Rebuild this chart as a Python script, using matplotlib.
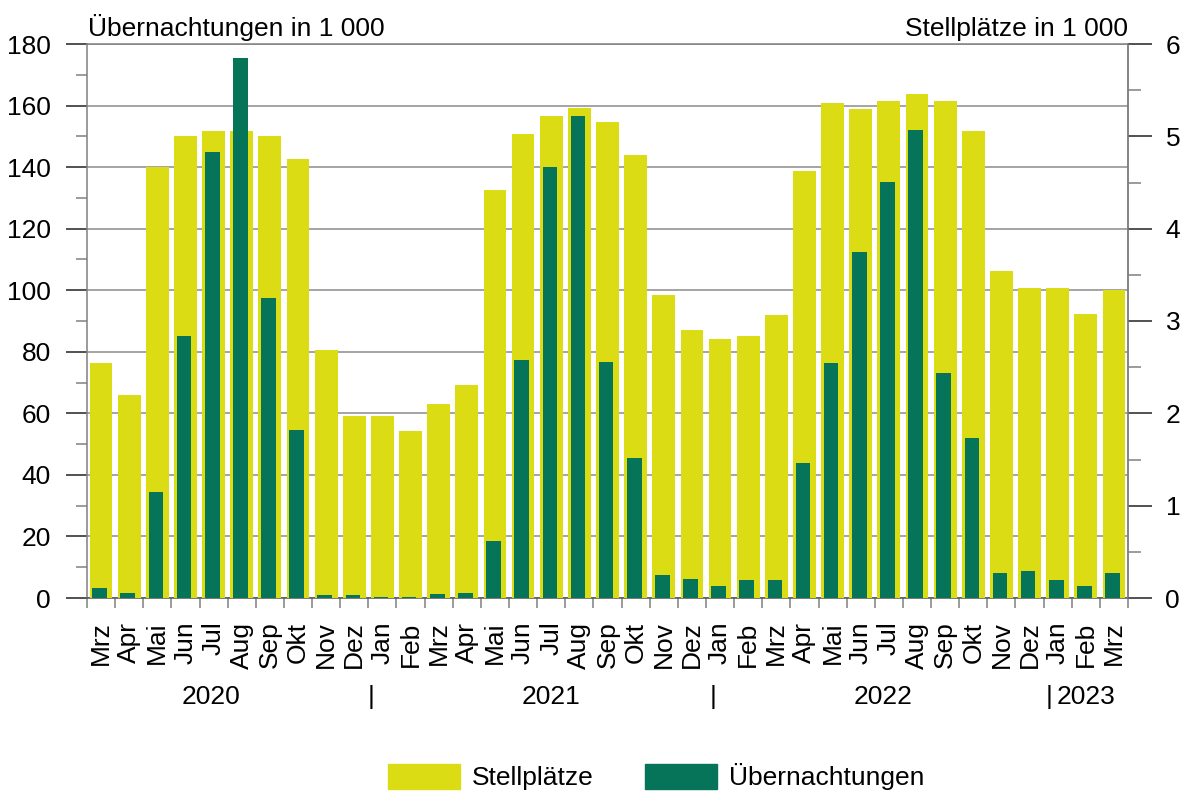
import numpy as np
import matplotlib
matplotlib.use('Agg')
import matplotlib.pyplot as plt
from matplotlib.patches import Patch
from matplotlib.ticker import MultipleLocator

plt.rcParams['font.family'] = ['Liberation Sans', 'DejaVu Sans']
plt.rcParams['font.size'] = 19

# ---------------- data ----------------
months = ['Mrz', 'Apr', 'Mai', 'Jun', 'Jul', 'Aug', 'Sep', 'Okt', 'Nov', 'Dez',
          'Jan', 'Feb', 'Mrz', 'Apr', 'Mai', 'Jun', 'Jul', 'Aug', 'Sep', 'Okt', 'Nov', 'Dez',
          'Jan', 'Feb', 'Mrz', 'Apr', 'Mai', 'Jun', 'Jul', 'Aug', 'Sep', 'Okt', 'Nov', 'Dez',
          'Jan', 'Feb', 'Mrz']

# Stellplätze in 1 000 (rechte Achse)
stellplaetze = [2.54, 2.20, 4.67, 5.00, 5.06, 5.06, 5.00, 4.75, 2.69, 1.97,
                1.97, 1.81, 2.10, 2.31, 4.42, 5.02, 5.22, 5.31, 5.15, 4.80, 3.28, 2.90,
                2.80, 2.84, 3.06, 4.62, 5.36, 5.30, 5.38, 5.46, 5.38, 5.06, 3.54, 3.36,
                3.36, 3.08, 3.34]

# Übernachtungen in 1 000 (linke Achse)
uebernachtungen = [3.2, 1.6, 34.4, 85.1, 144.9, 175.4, 97.5, 54.6, 1.0, 1.0,
                   0.3, 0.3, 1.3, 1.6, 18.5, 77.3, 140.0, 156.6, 76.7, 45.5, 7.5, 6.2,
                   3.9, 5.8, 5.8, 43.9, 76.3, 112.4, 135.2, 152.0, 73.1, 52.0, 8.1, 8.8,
                   5.8, 3.9, 8.1]

years = ['2020', '2021', '2022', '2023']
year_pos = [3.9, 16.0, 27.8, 35.0]
year_sep = [9.6, 21.75, 33.7]

col_stell = '#dcdc14'
col_ueber = '#067458'
col_grid = '#8c8c8c'
col_spine = '#808080'

x = np.arange(len(months))

fig = plt.figure(figsize=(11.83, 7.91), dpi=100)
ax = fig.add_axes([87 / 1183, 1 - 598 / 791, (1128 - 87) / 1183, (598 - 44) / 791])
ax2 = ax.twinx()   # Stellplätze
ax3 = ax.twinx()   # Übernachtungen (gleiche Skala wie links)

# --- Stellplätze ---
ax2.bar(x, stellplaetze, width=0.81, color=col_stell, zorder=2)
ax2.set_ylim(0, 6)
ax2.yaxis.set_major_locator(MultipleLocator(1))
ax2.yaxis.set_minor_locator(MultipleLocator(0.5))
ax2.tick_params(axis='y', which='major', length=17, width=1.1, color='#222222', pad=10)
ax2.tick_params(axis='y', which='minor', length=9.5, width=1.1, color=col_spine)

# --- Übernachtungen ---
ax3.bar(x - 0.05, uebernachtungen, width=0.52, color=col_ueber, zorder=3)
ax3.set_ylim(0, 180)
ax3.axis('off')

# --- linke Achse mit Gitter ---
ax.set_ylim(0, 180)
ax.set_xlim(-0.5, len(months) - 0.5)
ax.yaxis.set_major_locator(MultipleLocator(20))
ax.yaxis.set_minor_locator(MultipleLocator(10))
ax.grid(axis='y', which='major', color=col_grid, linewidth=1.1)
ax.set_axisbelow(True)
ax.tick_params(axis='y', which='major', length=15, width=1.1, color='#222222', pad=11)
ax.tick_params(axis='y', which='minor', length=8, width=1.1, color=col_spine)

ax.set_xticks(x)
ax.set_xticklabels(months, rotation=90)
ax.set_xticks(np.arange(-0.5, len(months), 1), minor=True)
ax.tick_params(axis='x', which='major', length=0, pad=17)
ax.tick_params(axis='x', which='minor', length=7.2, width=1.1, color=col_spine)

for a in (ax, ax2, ax3):
    for s in a.spines.values():
        s.set_color(col_spine)
        s.set_linewidth(1.1)
ax2.spines['bottom'].set_visible(False)
ax2.spines['left'].set_visible(False)
ax2.spines['top'].set_visible(False)
ax.spines['bottom'].set_color('#555555')

# Jahresbeschriftung
for yr, xp in zip(years, year_pos):
    ax.text(xp, -0.179, yr, transform=ax.get_xaxis_transform(),
            ha='center', va='center')
for xp in year_sep:
    ax.text(xp, -0.179, '|', transform=ax.get_xaxis_transform(),
            ha='center', va='center')

# Achsentitel
ax.text(0.001, 1.014, 'Übernachtungen in 1 000', transform=ax.transAxes,
        ha='left', va='baseline')
ax.text(1.0, 1.014, 'Stellplätze in 1 000', transform=ax.transAxes,
        ha='right', va='baseline')

# Legende
handles = [Patch(color=col_stell, label='Stellplätze'),
           Patch(color=col_ueber, label='Übernachtungen')]
fig.legend(handles=handles, loc='center left', bbox_to_anchor=(388 / 1183, 1 - 777 / 791),
           ncol=2, frameon=False, borderpad=0, borderaxespad=0,
           handlelength=2.73, handleheight=1.05, handletextpad=0.45,
           columnspacing=1.93)

fig.savefig('out.png', dpi=100)
